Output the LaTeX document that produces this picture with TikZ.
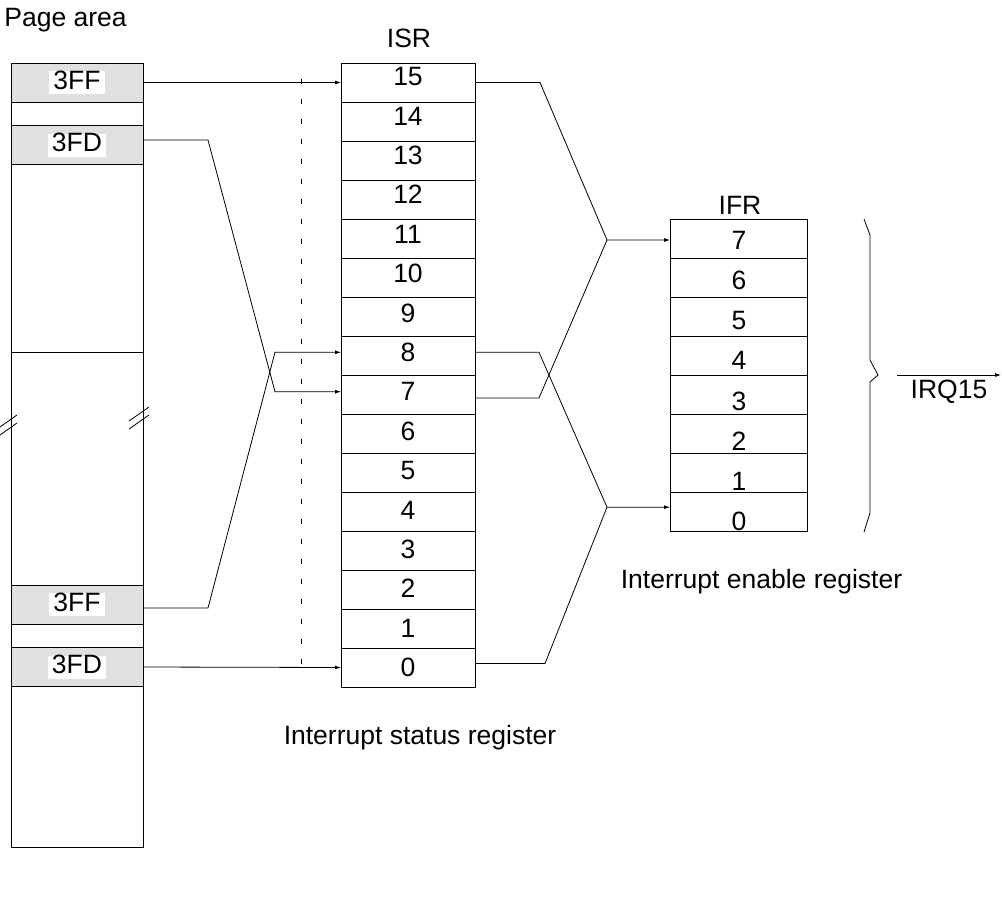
\documentclass[tikz,border=0pt]{standalone}
\usepackage{fontspec}
\setmainfont{Liberation Sans}
\usetikzlibrary{arrows.meta, positioning}
\definecolor{cSlot}{RGB}{224,224,224}

\begin{document}
\begin{tikzpicture}[x=1pt, y=-1pt, line width=0.8pt,
    font=\fontsize{26.5}{30}\selectfont,
    reg/.style={draw, minimum width=134pt, minimum height=39pt, inner sep=0pt, outer sep=0pt},
    slot/.style={draw, fill=cSlot, minimum width=132pt, minimum height=39pt, inner sep=0pt, outer sep=0pt},
    tag/.style={fill=white, inner xsep=4pt, inner ysep=0pt, text height=18pt, text depth=5pt},
    arr/.style={-{Latex[length=6pt, width=4pt]}}]
  \useasboundingbox (0,0) rectangle (1002,907);
  \node[anchor=base west, inner sep=0pt] (page) at (4,27) {Page area};
  \draw (11,63) rectangle (143,847);
  \draw (11,352) -- (143,352);
  \foreach \n/\y/\t in {pFFa/82.5/3FF, pFDa/145/3FD, pFFb/604.5/3FF, pFDb/667/3FD} {
    \node[slot] (\n) at (77,\y) {};
    \node[tag] (\n txt) at (\n) {\t};
  }
  \draw (0,427) -- (17,415);
  \draw (0,435) -- (17,423);
  \draw (129,429) -- (149,415);
  \draw (129,421) -- (149,407);
  \draw[dash pattern=on 5pt off 15pt] (301,79) -- (301,668);
  \node[anchor=base] (isrname) at (409,48) {ISR};
  \foreach \v in {0,...,15} {
    \node[reg] (isr\v) at (408,{82.5+39*(15-\v)}) {};
    \node (isrt\v) at (408,{76.5+39.4*(15-\v)}) {\v};
  }
  \node[anchor=base] (status) at (420,744) {Interrupt status register};
  \node[anchor=base] (ifrname) at (740,214) {IFR};
  \foreach \v in {0,...,7} {
    \node[reg, minimum width=137pt] (ifr\v) at (738.5,{238.5+39.1*(7-\v)}) {};
    \node (ifrt\v) at (739,{240.5+40.1*(7-\v)}) {\v};
  }
  \node[anchor=base] (enable) at (761.5,588) {Interrupt enable register};
  \draw[arr] (pFFa.east) -- (isr15.west);
  \draw[arr] ([yshift=5pt]pFDa.east) -- ++(65,0) -- ([xshift=-66pt]isr7.west |- isrt7) -- (isr7.west |- isrt7);
  \draw[arr] ([yshift=-3.5pt]pFFb.east) -- ++(65,0) -- ([xshift=-66pt]isr8.west |- isrt8) -- (isr8.west |- isrt8);
  \draw[arr] (pFDb.east) -- (isr0.west);
  \draw[arr] (isr15.east) -- ++(65,0) -- ([xshift=-63pt,yshift=-1.5pt]ifr7.west) -- ([yshift=-1.5pt]ifr7.west);
  \draw ([yshift=-3.5pt]isr7.east) -- ++(64,0) -- ([xshift=-63pt,yshift=-1.5pt]ifr7.west);
  \draw[arr] (isr8.east |- isrt8) -- ++(64,0) -- ([xshift=-63pt,yshift=5pt]ifr0.west) -- ([yshift=5pt]ifr0.west);
  \draw ([yshift=4pt]isr0.east) -- ++(70,0) -- ([xshift=-63pt,yshift=5pt]ifr0.west);
  \draw (864,219) -- (870,235) -- (870,360) -- (878,375) -- (870,382) -- (870,513) -- (864,532);
  \coordinate (irqA) at (897,375);
  \coordinate (irqB) at (1001,375);
  \draw[arr] (irqA) -- (irqB);
  \node[anchor=base] (irq) at (949,398) {IRQ15};
\end{tikzpicture}
\end{document}
